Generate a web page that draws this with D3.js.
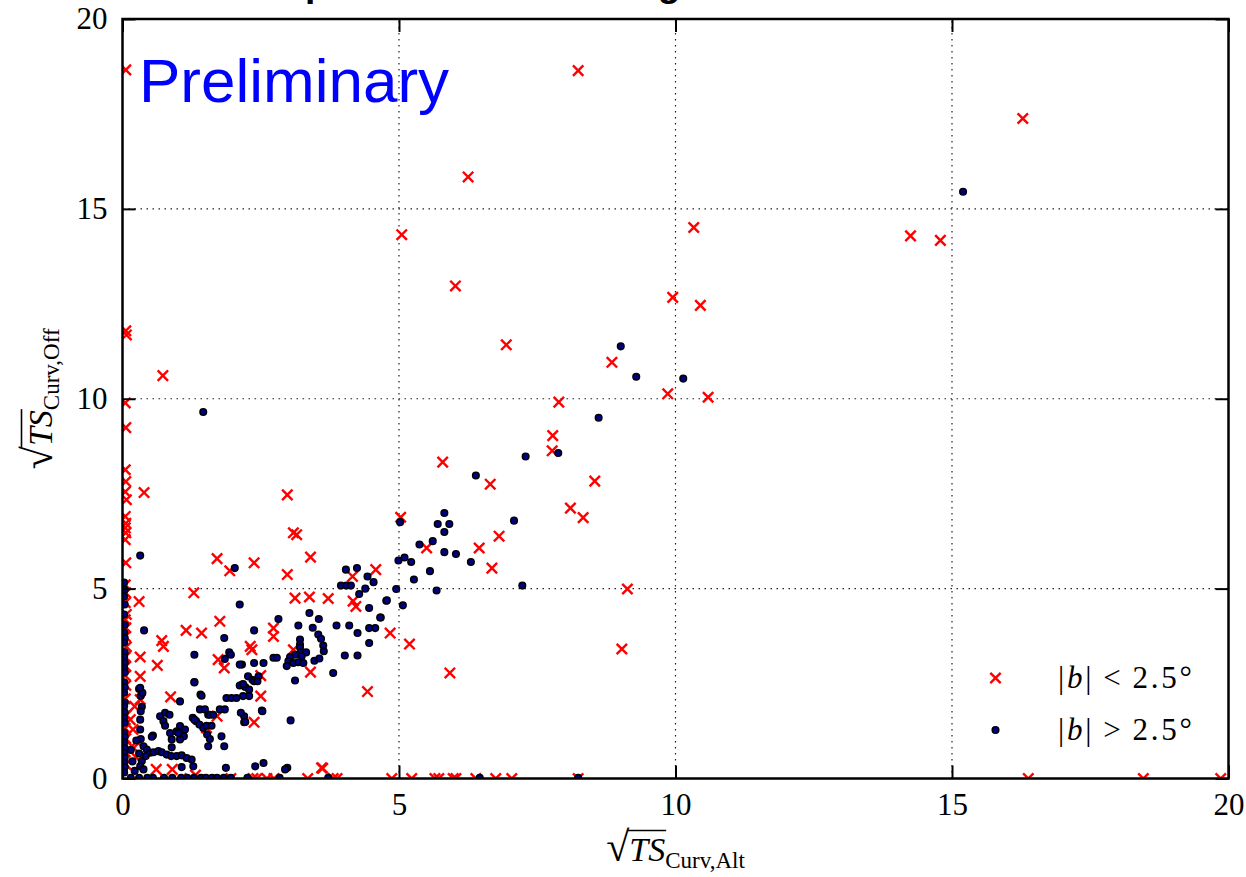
<!DOCTYPE html>
<html><head><meta charset="utf-8">
<script src="https://cdn.jsdelivr.net/npm/d3@7"></script>
<style>body{margin:0;background:#fff}svg{display:block}</style>
</head><body>
<svg id="chart" width="1246" height="877"></svg>
<script>
// ---------------- data ----------------
const tickValues = [0, 5, 10, 15, 20];
const titleText = "Results for Spectral Curvature Significance: Offset vs Alternative";
const watermark = "Preliminary";
const xSub = "Curv,Alt";
const ySub = "Curv,Off";
const legendOps = ["<", ">"];
const legendValue = "2.5°";

// |b| < 2.5 deg (red crosses)
const lowLat = [
 [0.06,18.66],[8.24,18.64],[16.28,17.38],[6.25,15.84],[5.05,14.32],[10.33,14.51],[14.25,14.29],[14.79,14.17],
 [6.02,12.97],[9.95,12.67],[10.45,12.46],[6.94,11.42],[8.85,10.96],[0.06,11.79],[0.07,11.68],[0.73,10.61],
 [9.86,10.13],[10.59,10.04],[7.89,9.91],[7.78,9.03],[7.77,8.63],[5.79,8.33],[6.65,7.75],[8.54,7.83],
 [8.1,7.12],[8.33,6.87],[5.03,6.88],[6.81,6.38],[6.45,6.07],[5.5,6.07],[6.68,5.54],[9.13,4.99],
 [9.03,3.41],[5.92,2.78],[5.19,3.54],[4.84,3.83],
 [2.98,7.47],[3.09,6.47],[3.15,6.42],[3.4,5.83],[2.98,5.37],[4.58,5.5],[4.16,5.32],[3.12,4.75],
 [3.38,4.78],[3.72,4.74],[4.17,4.67],[4.22,4.53],[3.4,2.8],[4.43,2.29],[3.09,3.39],[3.6,0.28],
 [0.39,7.53],[1.71,5.79],[1.94,5.47],[2.38,5.68],[0.3,4.66],[1.29,4.89],[1.15,3.9],[1.43,3.83],
 [1.76,4.14],[0.71,3.63],[0.74,3.48],[0.63,2.98],[0.32,3.2],[0.32,2.69],[1.73,3.13],[1.84,2.91],
 [2.31,3.48],[2.34,3.39],[2.73,3.96],[2.73,3.74],[2.5,2.71],[0.87,2.15],[2.5,2.17],[2.38,1.48],
 [0.32,2.08],[0.19,1.29],[0.17,0.85],[1.71,1.64],[1.52,1.33],[0.29,0.93],[0.61,0.24],[0.9,0.24],
 [0.05,9.89],[0.06,9.24],[0.05,8.13],[0.06,7.82],[0.05,7.55],[0.07,7.34],[0.05,6.9],[0.06,6.72],
 [0.05,6.6],[0.06,6.47],[0.05,6.29],[0.06,5.68],[0.05,5.1],[0.06,4.89],[0.05,4.63],[0.07,4.32],
 [0.05,4.18],[0.06,3.97],[0.05,3.74],[0.07,3.47],[0.05,3.2],[0.06,2.95],[0.05,2.71],[0.06,2.45],
 [0.05,2.1],[0.07,1.67],[0.05,1.32],[0.06,1.05],[0.05,0.7],[0.06,0.37],[0.22,1.9],[0.14,1.55],[0.25,0.55],
 [1.32,0.09],[1.22,0],[1.96,0],[2.36,0],[2.43,0],[2.61,0],[2.74,0],[3.35,0],[3.62,0.27],[3.81,0],
 [3.88,0],[4.87,0],[5.23,0],[5.65,0],[5.72,0],[5.98,0],[6.03,0],[6.39,0],[6.75,0],[7.04,0],
 [8.24,0],[16.38,0],[18.46,0],[19.86,0]
];

// |b| > 2.5 deg (navy dots)
const highLat = [
 [15.2,15.45],[9.01,11.38],[9.29,10.58],[10.14,10.53],[8.61,9.5],[7.88,8.57],[7.29,8.48],[6.39,7.98],
 [7.08,6.79],[5.02,6.75],[5.82,6.99],[5.7,6.7],[5.91,6.7],[5.82,6.49],[5.37,6.16],[5.61,6.25],
 [5.82,5.96],[6.03,5.91],[6.3,5.7],[4.99,5.74],[5.1,5.82],[5.22,5.7],[5.56,5.46],[5.27,5.24],
 [4.95,4.99],[5.68,4.95],[7.23,5.08],[4.77,4.68],[4.67,4.24],[5.07,4.56],[1.46,9.65],[0.32,5.87],[2.03,5.54],
 [4.04,5.5],[4.24,5.54],[3.95,5.08],[4.05,5.08],[4.13,5.08],[4.43,5.32],[4.54,5.17],[4.39,5.0],
 [4.28,4.86],[4.78,4.69],[4.46,4.49],[3.38,4.36],[3.55,4.2],[3.18,4.03],[3.44,3.97],[3.87,4.03],
 [4.1,4.03],[4.25,3.83],[4.46,3.96],[4.57,3.96],[4.66,4.24],[4.46,3.57],[3.54,3.79],[3.59,3.68],
 [3.63,3.5],[3.64,3.35],[3.21,3.66],[3.21,3.53],[3.21,3.45],[3.22,3.32],[3.32,3.32],[3.24,3.22],
 [3.12,3.26],[3.03,3.2],[3.0,3.09],[3.09,3.04],[3.18,3.06],[3.27,3.04],[3.47,3.1],[3.56,3.16],
 [2.97,2.96],[3.12,2.58],[3.81,2.78],[4.02,3.24],[4.25,3.24],[3.04,1.53],[2.98,0.28],
 [2.12,4.58],[2.82,4.2],[0.39,3.9],[2.38,3.9],[1.84,3.7],[1.93,3.32],[1.96,3.26],[1.85,3.15],
 [2.16,3.0],[2.38,3.04],[2.55,3.04],[2.73,3.18],[2.79,3.18],[1.3,3.26],[1.3,2.54],[2.27,2.69],
 [2.35,2.6],[2.38,2.56],[2.16,2.47],[2.22,2.41],[2.29,2.34],[1.88,2.12],[1.97,2.12],[2.06,2.12],
 [1.41,2.21],[1.04,2.03],[0.3,2.36],[0.33,2.17],[0.35,1.89],[0.33,1.77],[0.68,1.64],[0.77,1.73],
 [0.85,1.68],[1.4,1.82],[1.49,1.82],[1.55,1.68],[1.58,1.68],[1.64,1.68],[1.76,1.82],[1.85,1.82],
 [1.27,1.6],[1.33,1.51],[1.39,1.42],[1.46,1.33],[1.52,1.39],[1.61,1.39],[1.53,1.16],[1.58,1.04],
 [1.55,0.85],[1.84,0.85],[2.2,1.48],[2.2,1.64],[2.52,1.79],[0.74,1.51],[0.77,1.39],[1.04,1.38],
 [0.98,1.24],[1.06,1.16],[1.11,1.11],[1.04,1.03],[0.89,1.03],[0.89,0.82],[0.55,1.13],[0.32,1.29],
 [0.33,1.04],[0.38,0.85],[0.44,0.76],[0.5,0.68],[0.56,0.69],[0.65,0.72],[0.71,0.69],[0.8,0.63],
 [0.88,0.59],[0.98,0.59],[1.07,0.61],[1.16,0.54],[1.25,0.5],[0.3,0.66],[0.35,0.46],[0.32,0.32],
 [0.38,0.24],[1.07,0.3],[1.28,0.32],[1.87,0.28],[2.4,0.32],[2.55,0.41],[2.18,2.17],[2.29,2.17],
 [2.14,1.73],[2.22,1.49],[2.53,1.77],[2.12,2.45],[2.18,2.49],[2.46,2.69],[2.44,2.56],[2.12,3.0],
 [1.79,1.11],[1.3,1.55],[1.43,2.18],[1.3,2.53],[0.53,1.1],[0.42,0.59],[0.86,1.2],[1.01,1.2],
 [1.13,1.29],[0.32,1.55],[0.36,2.26],[0.32,2.39],[0.18,0.45],[0.22,0.2],[0.15,0.75],[0.25,1.0],
 [0.03,5.16],[0.04,4.97],[0.03,4.79],[0.04,4.58],[0.03,4.32],[0.04,4.05],[0.03,3.84],[0.04,3.7],
 [0.03,3.58],[0.04,3.32],[0.03,3.2],[0.04,3.05],[0.03,2.9],[0.04,2.79],[0.03,2.53],[0.04,2.4],
 [0.03,2.26],[0.04,2.0],[0.03,1.9],[0.04,1.74],[0.03,1.6],[0.04,1.47],[0.03,1.21],[0.04,1.1],
 [0.03,0.95],[0.04,0.8],[0.03,0.68],[0.04,0.55],[0.03,0.42],[0.04,0.3],[0.03,0.16],
 [0.15,0.02],[0.3,0.02],[0.45,0.02],[0.55,0.02],[0.75,0.02],[0.9,0.02],[1.06,0.02],[1.17,0.02],
 [1.29,0.02],[1.42,0.02],[1.51,0.02],[1.62,0.02],[1.71,0.02],[1.83,0.02],[1.96,0.02],[2.26,0.02],
 [2.84,0.02],[2.94,0.24],[3.72,0.02],[6.46,0.02],[8.24,0.02]
];

// ---------------- drawing ----------------
const svg = d3.select("#chart");
const serif = "'Liberation Serif','DejaVu Serif',serif";
const sans = "'Liberation Sans',Arial,sans-serif";

const x = d3.scaleLinear().domain([0, 20]).range([122.5, 1228.5]);
const y = d3.scaleLinear().domain([0, 20]).range([778.5, 19]);
const [x0, x1] = x.range(), [y0, y1] = y.range();

svg.append("defs").append("clipPath").attr("id", "plotclip")
  .append("rect").attr("x", x0).attr("y", y1).attr("width", x1 - x0).attr("height", y0 - y1);

// grid
const inner = tickValues.filter(v => v > 0 && v < 20);
const grid = svg.append("g").attr("stroke", "#222").attr("stroke-width", 1.2).attr("stroke-dasharray", "1.5,4.5");
grid.selectAll(".gx").data(inner).join("line").attr("x1", d => x(d)).attr("x2", d => x(d)).attr("y1", y0).attr("y2", y1);
grid.selectAll(".gy").data(inner).join("line").attr("y1", d => y(d)).attr("y2", d => y(d)).attr("x1", x0).attr("x2", x1);

// markers
const crossPath = "M-5.2,-5.2L5.2,5.2M-5.2,5.2L5.2,-5.2";
const marks = svg.append("g").attr("clip-path", "url(#plotclip)");
marks.selectAll(".cross").data(lowLat).join("path")
  .attr("d", crossPath).attr("transform", d => `translate(${x(d[0])},${y(d[1])})`)
  .attr("stroke", "#ff0000").attr("stroke-width", 2.4).attr("fill", "none");
marks.selectAll(".dot").data(highLat).join("circle")
  .attr("cx", d => x(d[0])).attr("cy", d => y(d[1])).attr("r", 3.3)
  .attr("fill", "#000080").attr("stroke", "#000").attr("stroke-width", 1.5);

// axes
function styleAxis(g) {
  g.select(".domain").remove();
  g.selectAll(".tick line").attr("stroke", "#000").attr("stroke-width", 2);
  g.selectAll(".tick text").attr("font-family", serif).attr("font-size", 31).attr("fill", "#000");
}
svg.append("g").attr("transform", `translate(0,${y0})`)
  .call(d3.axisBottom(x).tickValues(tickValues).tickFormat(d3.format("d")).tickSize(-13).tickPadding(14))
  .call(styleAxis);
svg.append("g").attr("transform", `translate(${x0},0)`)
  .call(d3.axisLeft(y).tickValues(tickValues).tickFormat(d3.format("d")).tickSize(-13).tickPadding(15))
  .call(styleAxis);
svg.append("g").attr("transform", `translate(0,${y1})`)
  .call(d3.axisTop(x).tickValues(tickValues).tickFormat("").tickSize(-13)).call(styleAxis);
svg.append("g").attr("transform", `translate(${x1},0)`)
  .call(d3.axisRight(y).tickValues(tickValues).tickFormat("").tickSize(-13)).call(styleAxis);

// frame
svg.append("rect").attr("x", x0).attr("y", y1).attr("width", x1 - x0).attr("height", y0 - y1)
  .attr("fill", "none").attr("stroke", "#000").attr("stroke-width", 2.5);

// axis labels with radical
function sqrtLabel(g, sub) {
  const t = g.append("text").attr("font-family", serif).attr("fill", "#000").attr("y", 0);
  t.append("tspan").attr("font-size", 42).text("√");
  t.append("tspan").attr("font-size", 34).attr("font-style", "italic").text("TS");
  t.append("tspan").attr("font-size", 23).attr("dy", 7).text(sub);
  const n = t.node();
  const w = n.getComputedTextLength();
  t.attr("x", -w / 2);
  const e0 = n.getExtentOfChar(0), e2 = n.getExtentOfChar(2);
  g.append("line").attr("x1", e0.x + e0.width - 1.5).attr("x2", e2.x + e2.width + 1)
    .attr("y1", -30.5).attr("y2", -30.5).attr("stroke", "#000").attr("stroke-width", 1.6);
}
sqrtLabel(svg.append("g").attr("transform", `translate(${(x0 + x1) / 2},861)`), xSub);
sqrtLabel(svg.append("g").attr("transform", `translate(52,${(y0 + y1) / 2}) rotate(-90)`), ySub);

// watermark
svg.append("text").attr("x", 139).attr("y", 102).attr("font-family", sans).attr("font-size", 62)
  .attr("fill", "#0000ff").text(watermark);

// title (mostly above the canvas, as in the reference)
const title = svg.append("text").attr("font-family", sans).attr("font-weight", "bold")
  .attr("font-size", 30).attr("x", 0).attr("y", -4).attr("fill", "#000").text(titleText);
(function fitTitle() {
  const n = title.node();
  const ip = titleText.indexOf("p"), ig = titleText.indexOf("g");
  let p0 = n.getStartPositionOfChar(ip).x, g0 = n.getStartPositionOfChar(ig).x;
  if (g0 - p0 > 10) {
    const s = 30 * (662 - 309) / (g0 - p0);
    title.attr("font-size", s);
    p0 = n.getStartPositionOfChar(ip).x;
    title.attr("x", 305 - p0);
  }
})();

// legend
const legend = svg.append("g");
legend.selectAll("g").data(legendOps).join("g")
  .each(function (op, i) {
    const g = d3.select(this);
    const cy = 678 + i * 52;
    if (i === 0) {
      g.append("path").attr("d", crossPath).attr("transform", `translate(995.5,${cy})`)
        .attr("stroke", "#ff0000").attr("stroke-width", 2.4).attr("fill", "none");
    } else {
      g.append("circle").attr("cx", 995.5).attr("cy", cy).attr("r", 3.3)
        .attr("fill", "#000080").attr("stroke", "#000").attr("stroke-width", 1.5);
    }
    const t = g.append("text").attr("x", 1058).attr("y", cy + 10).attr("font-family", serif)
      .attr("font-size", 31).attr("fill", "#000").attr("textLength", 134).attr("lengthAdjust", "spacing");
    t.append("tspan").text("|");
    t.append("tspan").attr("font-style", "italic").text("b");
    t.append("tspan").text("|");
    t.append("tspan").attr("dx", 9).text(op);
    t.append("tspan").attr("dx", 9).text(legendValue);
  });
</script>
</body></html>
